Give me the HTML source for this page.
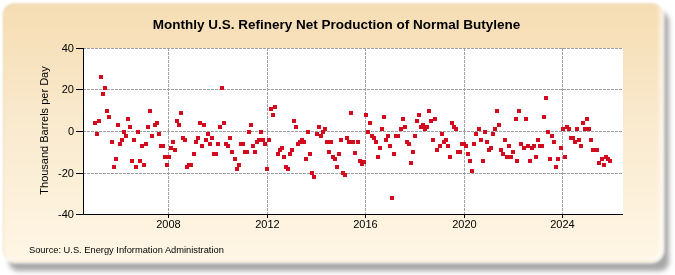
<!DOCTYPE html>
<html><head><meta charset="utf-8"><style>
html,body{margin:0;padding:0;background:#fff;width:675px;height:275px;overflow:hidden;}
.box{position:absolute;left:3px;top:3px;width:660px;height:259px;border-radius:12px;box-sizing:border-box;border:1px solid rgba(180,160,110,0.25);border-right-color:transparent;border-bottom-color:transparent;
background:linear-gradient(to bottom,#F6DDB3 0%,#FAEBD0 50%,#FFF6E5 100%);
box-shadow:0 0 0 1.5px rgba(255,255,255,0.9), inset -3px -2px 2px rgba(255,255,255,0.6);filter:blur(0.9px);}
.shd{position:absolute;left:9px;top:12px;width:660px;height:259px;border-radius:9px;background:rgba(0,0,0,0.34);filter:blur(2.7px);}
svg{position:absolute;left:0;top:0;}
.txt{will-change:transform;}
text{font-family:"Liberation Sans",sans-serif;fill:#000;}
</style></head><body>
<div class="shd"></div>
<div class="box"></div>
<svg width="675" height="275" viewBox="0 0 675 275">
<rect x="84" y="48" width="539" height="166" fill="#fff"/>
<g stroke="#A0A0A0" stroke-width="1" stroke-dasharray="3,1" shape-rendering="crispEdges">
<g stroke-dashoffset="1">
<line x1="84" y1="48.5" x2="623" y2="48.5"/>
<line x1="84" y1="89.5" x2="623" y2="89.5"/>
<line x1="84" y1="131.5" x2="623" y2="131.5"/>
<line x1="84" y1="173.5" x2="623" y2="173.5"/>
</g>
<line x1="168.5" y1="48" x2="168.5" y2="214"/>
<line x1="267.5" y1="48" x2="267.5" y2="214"/>
<line x1="365.5" y1="48" x2="365.5" y2="214"/>
<line x1="464.5" y1="48" x2="464.5" y2="214"/>
<line x1="562.5" y1="48" x2="562.5" y2="214"/>
</g>
<g fill="#D20C1E" shape-rendering="crispEdges"><rect x="93" y="121" width="4" height="4"/><rect x="95" y="132" width="4" height="4"/><rect x="97" y="119" width="4" height="4"/><rect x="99" y="75" width="4" height="4"/><rect x="101" y="92" width="4" height="4"/><rect x="103" y="86" width="4" height="4"/><rect x="105" y="109" width="4" height="4"/><rect x="107" y="115" width="4" height="4"/><rect x="110" y="140" width="4" height="4"/><rect x="112" y="165" width="4" height="4"/><rect x="114" y="157" width="4" height="4"/><rect x="116" y="123" width="4" height="4"/><rect x="118" y="142" width="4" height="4"/><rect x="120" y="138" width="4" height="4"/><rect x="122" y="130" width="4" height="4"/><rect x="124" y="134" width="4" height="4"/><rect x="126" y="117" width="4" height="4"/><rect x="128" y="125" width="4" height="4"/><rect x="130" y="159" width="4" height="4"/><rect x="132" y="138" width="4" height="4"/><rect x="134" y="165" width="4" height="4"/><rect x="136" y="130" width="4" height="4"/><rect x="138" y="159" width="4" height="4"/><rect x="140" y="144" width="4" height="4"/><rect x="142" y="163" width="4" height="4"/><rect x="144" y="142" width="4" height="4"/><rect x="146" y="125" width="4" height="4"/><rect x="148" y="109" width="4" height="4"/><rect x="150" y="134" width="4" height="4"/><rect x="153" y="123" width="4" height="4"/><rect x="155" y="121" width="4" height="4"/><rect x="157" y="132" width="4" height="4"/><rect x="159" y="144" width="4" height="4"/><rect x="161" y="144" width="4" height="4"/><rect x="163" y="155" width="4" height="4"/><rect x="165" y="163" width="4" height="4"/><rect x="167" y="155" width="4" height="4"/><rect x="169" y="146" width="4" height="4"/><rect x="171" y="140" width="4" height="4"/><rect x="173" y="148" width="4" height="4"/><rect x="175" y="119" width="4" height="4"/><rect x="177" y="123" width="4" height="4"/><rect x="179" y="111" width="4" height="4"/><rect x="181" y="136" width="4" height="4"/><rect x="183" y="138" width="4" height="4"/><rect x="185" y="165" width="4" height="4"/><rect x="187" y="163" width="4" height="4"/><rect x="189" y="163" width="4" height="4"/><rect x="192" y="152" width="4" height="4"/><rect x="194" y="140" width="4" height="4"/><rect x="196" y="136" width="4" height="4"/><rect x="198" y="121" width="4" height="4"/><rect x="200" y="144" width="4" height="4"/><rect x="202" y="123" width="4" height="4"/><rect x="204" y="138" width="4" height="4"/><rect x="206" y="132" width="4" height="4"/><rect x="208" y="142" width="4" height="4"/><rect x="210" y="136" width="4" height="4"/><rect x="212" y="152" width="4" height="4"/><rect x="214" y="152" width="4" height="4"/><rect x="216" y="142" width="4" height="4"/><rect x="218" y="125" width="4" height="4"/><rect x="220" y="86" width="4" height="4"/><rect x="222" y="121" width="4" height="4"/><rect x="224" y="142" width="4" height="4"/><rect x="226" y="144" width="4" height="4"/><rect x="228" y="136" width="4" height="4"/><rect x="230" y="150" width="4" height="4"/><rect x="233" y="157" width="4" height="4"/><rect x="235" y="167" width="4" height="4"/><rect x="237" y="163" width="4" height="4"/><rect x="239" y="142" width="4" height="4"/><rect x="241" y="142" width="4" height="4"/><rect x="243" y="150" width="4" height="4"/><rect x="245" y="150" width="4" height="4"/><rect x="247" y="130" width="4" height="4"/><rect x="249" y="123" width="4" height="4"/><rect x="251" y="144" width="4" height="4"/><rect x="253" y="150" width="4" height="4"/><rect x="255" y="140" width="4" height="4"/><rect x="257" y="138" width="4" height="4"/><rect x="259" y="130" width="4" height="4"/><rect x="261" y="138" width="4" height="4"/><rect x="263" y="142" width="4" height="4"/><rect x="265" y="167" width="4" height="4"/><rect x="267" y="138" width="4" height="4"/><rect x="269" y="107" width="4" height="4"/><rect x="271" y="113" width="4" height="4"/><rect x="273" y="105" width="4" height="4"/><rect x="276" y="152" width="4" height="4"/><rect x="278" y="148" width="4" height="4"/><rect x="280" y="146" width="4" height="4"/><rect x="282" y="155" width="4" height="4"/><rect x="284" y="165" width="4" height="4"/><rect x="286" y="167" width="4" height="4"/><rect x="288" y="152" width="4" height="4"/><rect x="290" y="148" width="4" height="4"/><rect x="292" y="119" width="4" height="4"/><rect x="294" y="125" width="4" height="4"/><rect x="296" y="142" width="4" height="4"/><rect x="298" y="140" width="4" height="4"/><rect x="300" y="138" width="4" height="4"/><rect x="302" y="140" width="4" height="4"/><rect x="304" y="157" width="4" height="4"/><rect x="306" y="130" width="4" height="4"/><rect x="308" y="152" width="4" height="4"/><rect x="310" y="171" width="4" height="4"/><rect x="312" y="175" width="4" height="4"/><rect x="315" y="132" width="4" height="4"/><rect x="317" y="125" width="4" height="4"/><rect x="319" y="134" width="4" height="4"/><rect x="321" y="130" width="4" height="4"/><rect x="323" y="127" width="4" height="4"/><rect x="325" y="140" width="4" height="4"/><rect x="327" y="150" width="4" height="4"/><rect x="329" y="140" width="4" height="4"/><rect x="331" y="155" width="4" height="4"/><rect x="333" y="157" width="4" height="4"/><rect x="335" y="165" width="4" height="4"/><rect x="337" y="152" width="4" height="4"/><rect x="339" y="138" width="4" height="4"/><rect x="341" y="171" width="4" height="4"/><rect x="343" y="173" width="4" height="4"/><rect x="345" y="136" width="4" height="4"/><rect x="347" y="140" width="4" height="4"/><rect x="349" y="111" width="4" height="4"/><rect x="351" y="140" width="4" height="4"/><rect x="353" y="151" width="4" height="4"/><rect x="356" y="140" width="4" height="4"/><rect x="358" y="159" width="4" height="4"/><rect x="360" y="162" width="4" height="4"/><rect x="362" y="160" width="4" height="4"/><rect x="364" y="113" width="4" height="4"/><rect x="366" y="130" width="4" height="4"/><rect x="368" y="121" width="4" height="4"/><rect x="370" y="134" width="4" height="4"/><rect x="372" y="136" width="4" height="4"/><rect x="374" y="140" width="4" height="4"/><rect x="376" y="155" width="4" height="4"/><rect x="378" y="146" width="4" height="4"/><rect x="380" y="127" width="4" height="4"/><rect x="382" y="115" width="4" height="4"/><rect x="384" y="138" width="4" height="4"/><rect x="386" y="134" width="4" height="4"/><rect x="388" y="144" width="4" height="4"/><rect x="390" y="196" width="4" height="4"/><rect x="392" y="152" width="4" height="4"/><rect x="394" y="134" width="4" height="4"/><rect x="396" y="134" width="4" height="4"/><rect x="399" y="127" width="4" height="4"/><rect x="401" y="117" width="4" height="4"/><rect x="403" y="125" width="4" height="4"/><rect x="405" y="140" width="4" height="4"/><rect x="407" y="142" width="4" height="4"/><rect x="409" y="161" width="4" height="4"/><rect x="411" y="150" width="4" height="4"/><rect x="413" y="134" width="4" height="4"/><rect x="415" y="119" width="4" height="4"/><rect x="417" y="113" width="4" height="4"/><rect x="419" y="125" width="4" height="4"/><rect x="421" y="123" width="4" height="4"/><rect x="423" y="127" width="4" height="4"/><rect x="425" y="125" width="4" height="4"/><rect x="427" y="109" width="4" height="4"/><rect x="429" y="119" width="4" height="4"/><rect x="431" y="138" width="4" height="4"/><rect x="433" y="117" width="4" height="4"/><rect x="435" y="148" width="4" height="4"/><rect x="438" y="144" width="4" height="4"/><rect x="440" y="132" width="4" height="4"/><rect x="442" y="140" width="4" height="4"/><rect x="444" y="138" width="4" height="4"/><rect x="446" y="144" width="4" height="4"/><rect x="448" y="155" width="4" height="4"/><rect x="450" y="121" width="4" height="4"/><rect x="452" y="125" width="4" height="4"/><rect x="454" y="127" width="4" height="4"/><rect x="456" y="150" width="4" height="4"/><rect x="458" y="150" width="4" height="4"/><rect x="460" y="142" width="4" height="4"/><rect x="462" y="142" width="4" height="4"/><rect x="464" y="144" width="4" height="4"/><rect x="466" y="152" width="4" height="4"/><rect x="468" y="159" width="4" height="4"/><rect x="470" y="169" width="4" height="4"/><rect x="472" y="142" width="4" height="4"/><rect x="474" y="132" width="4" height="4"/><rect x="477" y="127" width="4" height="4"/><rect x="479" y="138" width="4" height="4"/><rect x="481" y="159" width="4" height="4"/><rect x="483" y="130" width="4" height="4"/><rect x="485" y="140" width="4" height="4"/><rect x="487" y="148" width="4" height="4"/><rect x="489" y="146" width="4" height="4"/><rect x="491" y="132" width="4" height="4"/><rect x="493" y="127" width="4" height="4"/><rect x="495" y="109" width="4" height="4"/><rect x="497" y="123" width="4" height="4"/><rect x="499" y="148" width="4" height="4"/><rect x="501" y="152" width="4" height="4"/><rect x="503" y="138" width="4" height="4"/><rect x="505" y="155" width="4" height="4"/><rect x="507" y="144" width="4" height="4"/><rect x="509" y="155" width="4" height="4"/><rect x="511" y="150" width="4" height="4"/><rect x="514" y="117" width="4" height="4"/><rect x="515" y="159" width="4" height="4"/><rect x="517" y="109" width="4" height="4"/><rect x="519" y="142" width="4" height="4"/><rect x="522" y="146" width="4" height="4"/><rect x="524" y="117" width="4" height="4"/><rect x="526" y="144" width="4" height="4"/><rect x="528" y="159" width="4" height="4"/><rect x="530" y="146" width="4" height="4"/><rect x="532" y="144" width="4" height="4"/><rect x="534" y="155" width="4" height="4"/><rect x="536" y="138" width="4" height="4"/><rect x="538" y="144" width="4" height="4"/><rect x="540" y="144" width="4" height="4"/><rect x="542" y="115" width="4" height="4"/><rect x="544" y="96" width="4" height="4"/><rect x="546" y="130" width="4" height="4"/><rect x="548" y="157" width="4" height="4"/><rect x="550" y="134" width="4" height="4"/><rect x="552" y="140" width="4" height="4"/><rect x="554" y="165" width="4" height="4"/><rect x="556" y="157" width="4" height="4"/><rect x="559" y="146" width="4" height="4"/><rect x="561" y="127" width="4" height="4"/><rect x="563" y="155" width="4" height="4"/><rect x="565" y="125" width="4" height="4"/><rect x="567" y="127" width="4" height="4"/><rect x="569" y="136" width="4" height="4"/><rect x="571" y="136" width="4" height="4"/><rect x="573" y="140" width="4" height="4"/><rect x="575" y="127" width="4" height="4"/><rect x="577" y="138" width="4" height="4"/><rect x="579" y="144" width="4" height="4"/><rect x="581" y="121" width="4" height="4"/><rect x="583" y="127" width="4" height="4"/><rect x="585" y="117" width="4" height="4"/><rect x="587" y="127" width="4" height="4"/><rect x="589" y="138" width="4" height="4"/><rect x="591" y="148" width="4" height="4"/><rect x="593" y="148" width="4" height="4"/><rect x="595" y="148" width="4" height="4"/><rect x="597" y="161" width="4" height="4"/><rect x="600" y="157" width="4" height="4"/><rect x="602" y="163" width="4" height="4"/><rect x="604" y="155" width="4" height="4"/><rect x="606" y="157" width="4" height="4"/><rect x="608" y="159" width="4" height="4"/></g>
<g stroke="#000" stroke-width="1.5" shape-rendering="crispEdges">
<line x1="83.5" y1="48" x2="83.5" y2="215"/>
<line x1="76" y1="214.5" x2="623" y2="214.5"/>
<line x1="76" y1="48.5" x2="83" y2="48.5"/>
<line x1="76" y1="89.5" x2="83" y2="89.5"/>
<line x1="76" y1="131.5" x2="83" y2="131.5"/>
<line x1="76" y1="173.5" x2="83" y2="173.5"/>
<line x1="168.5" y1="214" x2="168.5" y2="218"/>
<line x1="267.5" y1="214" x2="267.5" y2="218"/>
<line x1="365.5" y1="214" x2="365.5" y2="218"/>
<line x1="464.5" y1="214" x2="464.5" y2="218"/>
<line x1="562.5" y1="214" x2="562.5" y2="218"/>
</g>
</svg>
<svg class="txt" width="675" height="275" viewBox="0 0 675 275">
<text x="336.5" y="28.5" text-anchor="middle" font-size="13.5" font-weight="bold">Monthly U.S. Refinery Net Production of Normal Butylene</text>
<g font-size="11" text-anchor="end">
<text x="74" y="52">40</text>
<text x="74" y="93">20</text>
<text x="74" y="135">0</text>
<text x="74" y="177">-20</text>
<text x="74" y="218">-40</text>
</g>
<g font-size="11" text-anchor="middle">
<text x="168.5" y="227.6">2008</text>
<text x="267.5" y="227.6">2012</text>
<text x="365.5" y="227.6">2016</text>
<text x="464.5" y="227.6">2020</text>
<text x="562.5" y="227.6">2024</text>
</g>
<text transform="translate(48,130.5) rotate(-90)" text-anchor="middle" font-size="11">Thousand Barrels per Day</text>
<text x="29" y="253" font-size="9.3">Source: U.S. Energy Information Administration</text>
</svg>
</body></html>
